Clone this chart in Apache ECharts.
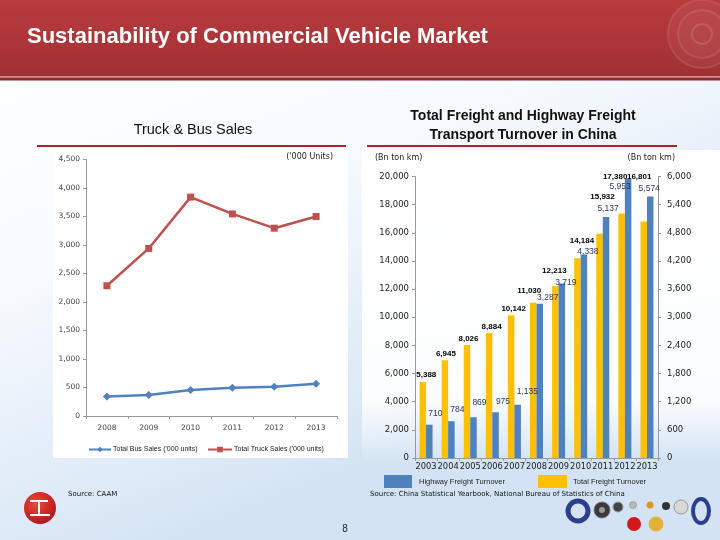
<!DOCTYPE html>
<html>
<head>
<meta charset="utf-8">
<script src="https://cdn.jsdelivr.net/npm/echarts@6/dist/echarts.min.js"></script>
<style>
html,body{margin:0;padding:0;background:#fff;}
#c{width:720px;height:540px;}
</style>
</head>
<body>
<div id="c"></div>
<script>
// ---------- data ----------
const salesYears = ['2008', '2009', '2010', '2011', '2012', '2013'];
const busSales = [340, 370, 455, 495, 515, 565];
const truckSales = [2285, 2940, 3840, 3545, 3295, 3500];
const salesTicks = [0, 500, 1000, 1500, 2000, 2500, 3000, 3500, 4000, 4500];

const freightYears = ['2003', '2004', '2005', '2006', '2007', '2008', '2009', '2010', '2011', '2012', '2013'];
const totalFreight = [5388, 6945, 8026, 8884, 10142, 11030, 12213, 14184, 15932, 17380, 16801];
const highwayFreight = [710, 784, 869, 975, 1135, 3287, 3719, 4338, 5137, 5953, 5574];
const totalTicks = [0, 2000, 4000, 6000, 8000, 10000, 12000, 14000, 16000, 18000, 20000];
const highwayTicks = [0, 600, 1200, 1800, 2400, 3000, 3600, 4200, 4800, 5400, 6000];

// ---------- label placement (style) ----------
const totalLabelOffset = [[3.5,-3.5],[1,-2],[1.5,-2.3],[2.5,-2.2],[2.5,-2.5],[-4,-8],[-1,-11],[4.5,-13.5],[3,-33],[-6.5,-32.5],[-4.5,-40.5]];
const hwyLabelOffset = [[6,-6.4],[6,-7.2],[6,-10],[7.4,-5.7],[9.7,-8.2],[8,-2],[4,3.3],[4,1.4],[2,-4],[-8,12.3],[-1,-3.5]];

const fmt = v => Number(v).toLocaleString('en-US');
const axisFont = 'DejaVu Sans';
const RED = '#C0504D', BLUE = '#4F81BD', YELLOW = '#FFC000';

function txt(text, x, y, font, fill, align, valign) {
  return {type: 'text', silent: true, style: {text, x, y, font, fill: fill || '#000',
    textAlign: align || 'left', textVerticalAlign: valign || 'middle',
    align: align || 'left', verticalAlign: valign || 'middle'}};
}

const graphics = [
  {type: 'rect', silent: true, z: -10, shape: {x: 0, y: 0, width: 720, height: 540},
    style: {fill: {type: 'linear', x: 0, y: 0, x2: 0.3, y2: 1, colorStops: [
      {offset: 0, color: '#ffffff'}, {offset: 0.45, color: '#f8fbfe'}, {offset: 1, color: '#d3e3f4'}]}}},
  {type: 'rect', silent: true, z: -9, shape: {x: 362, y: 150, width: 358, height: 312},
    style: {fill: {type: 'linear', x: 0, y: 0, x2: 0, y2: 1, colorStops: [
      {offset: 0, color: 'rgba(255,255,255,1)'}, {offset: 0.8, color: 'rgba(255,255,255,0.9)'}, {offset: 1, color: 'rgba(255,255,255,0)'}]}}},
  {type: 'rect', silent: true, z: -8, shape: {x: 53, y: 150, width: 295, height: 308}, style: {fill: '#ffffff'}},
  // banner
  {type: 'rect', silent: true, z: -5, shape: {x: 0, y: 0, width: 720, height: 76},
    style: {fill: {type: 'linear', x: 0, y: 0, x2: 0, y2: 1, colorStops: [
      {offset: 0, color: '#b93b3e'}, {offset: 1, color: '#a13033'}]}}},
  {type: 'rect', silent: true, z: -5, shape: {x: 0, y: 76, width: 720, height: 1.5}, style: {fill: '#d98a8b'}},
  {type: 'rect', silent: true, z: -5, shape: {x: 0, y: 77.5, width: 720, height: 3}, style: {fill: '#8e2a2c'}},
  {type: 'circle', silent: true, z: -4, shape: {cx: 702, cy: 34, r: 34}, style: {fill: 'rgba(255,255,255,0.05)', stroke: 'rgba(255,255,255,0.1)', lineWidth: 2}},
  {type: 'circle', silent: true, z: -4, shape: {cx: 702, cy: 34, r: 24}, style: {fill: 'rgba(255,255,255,0.03)', stroke: 'rgba(255,255,255,0.1)', lineWidth: 2}},
  {type: 'circle', silent: true, z: -4, shape: {cx: 702, cy: 34, r: 10}, style: {fill: 'none', stroke: 'rgba(255,255,255,0.12)', lineWidth: 2}},
  txt('Sustainability of Commercial Vehicle Market', 27, 37, 'bold 22px "Liberation Sans", Arial', '#ffffff'),
  // chart titles
  txt('Truck & Bus Sales', 193, 130, '14.5px "Liberation Sans", Arial', '#111', 'center'),
  {type: 'rect', silent: true, shape: {x: 37, y: 145, width: 309, height: 2}, style: {fill: '#a3282b'}},
  txt('Total Freight and Highway Freight', 523, 116, 'bold 14px "Liberation Sans", Arial', '#111', 'center'),
  txt('Transport Turnover in China', 523, 135, 'bold 14px "Liberation Sans", Arial', '#111', 'center'),
  {type: 'rect', silent: true, shape: {x: 367, y: 145, width: 310, height: 2}, style: {fill: '#a3282b'}},
  // units
  txt("('000 Units)", 333, 157, '8px "DejaVu Sans"', '#222', 'right'),
  txt('(Bn ton km)', 375, 158, '8px "DejaVu Sans"', '#222', 'left'),
  txt('(Bn ton km)', 675, 158, '8px "DejaVu Sans"', '#222', 'right'),
  // sources
  txt('Source: CAAM', 68, 494, '7px "DejaVu Sans"', '#111'),
  txt('Source: China Statistical Yearbook, National Bureau of Statistics of China', 370, 494, '7px "DejaVu Sans"', '#111'),
  txt('8', 345, 529, '10px "Liberation Sans", Arial', '#222', 'center'),
  // logo
  {type: 'circle', silent: true, shape: {cx: 40, cy: 508, r: 16}, style: {fill: {type: 'radial', x: 0.4, y: 0.35, r: 0.7, colorStops: [{offset: 0, color: '#e84a3c'}, {offset: 1, color: '#b3141a'}]}}},
  {type: 'rect', silent: true, shape: {x: 30, y: 500, width: 18, height: 2}, style: {fill: '#fff'}},
  {type: 'rect', silent: true, shape: {x: 38, y: 500, width: 2, height: 15}, style: {fill: '#fff'}},
  {type: 'rect', silent: true, shape: {x: 30, y: 514, width: 20, height: 2}, style: {fill: '#fff'}},
  // wheels
  {type: 'circle', silent: true, shape: {cx: 578, cy: 511, r: 10}, style: {fill: 'none', stroke: '#2b3f8c', lineWidth: 5}},
  {type: 'circle', silent: true, shape: {cx: 602, cy: 510, r: 8}, style: {fill: '#3a3a3a', stroke: '#777', lineWidth: 1}},
  {type: 'circle', silent: true, shape: {cx: 602, cy: 510, r: 3}, style: {fill: '#999'}},
  {type: 'circle', silent: true, shape: {cx: 618, cy: 507, r: 5}, style: {fill: '#444', stroke: '#999', lineWidth: 1}},
  {type: 'circle', silent: true, shape: {cx: 633, cy: 505, r: 3.5}, style: {fill: '#bbb', stroke: '#777', lineWidth: 0.5}},
  {type: 'circle', silent: true, shape: {cx: 650, cy: 505, r: 3.5}, style: {fill: '#d9962b'}},
  {type: 'circle', silent: true, shape: {cx: 666, cy: 506, r: 4}, style: {fill: '#333'}},
  {type: 'circle', silent: true, shape: {cx: 681, cy: 507, r: 7}, style: {fill: '#d8d8d8', stroke: '#999', lineWidth: 1}},
  {type: 'ellipse', silent: true, shape: {cx: 701, cy: 511, rx: 8, ry: 12}, style: {fill: 'none', stroke: '#2b3f8c', lineWidth: 4}},
  {type: 'circle', silent: true, shape: {cx: 634, cy: 524, r: 7}, style: {fill: '#d11a1a'}},
  {type: 'circle', silent: true, shape: {cx: 656, cy: 524, r: 7.5}, style: {fill: '#e0b23a'}}
];

const chart = echarts.init(document.getElementById('c'), null, {renderer: 'canvas'});

const leftAxisLabel = {fontFamily: axisFont, fontSize: 7.5, color: '#444'};
const rightAxisLabel = {fontFamily: axisFont, fontSize: 8.5, color: '#222'};

chart.setOption({
  animation: false,
  graphic: {elements: graphics},
  grid: [
    {left: 86, top: 159.5, width: 251, height: 256.5, containLabel: false},
    {left: 415, top: 176.5, width: 243, height: 281.5, containLabel: false}
  ],
  legend: [
    {left: 83, top: 441, itemWidth: 22, itemHeight: 7, itemGap: 5, data: ["Total Bus Sales ('000 units)"],
      textStyle: {fontFamily: 'Liberation Sans', fontSize: 7, color: '#222', padding: [0, 0, 0, -3]}},
    {left: 202, top: 441, itemWidth: 24, itemHeight: 7, data: ["Total Truck Sales ('000 units)"],
      textStyle: {fontFamily: 'Liberation Sans', fontSize: 7, color: '#222', padding: [0, 0, 0, -3]}},
    {left: 379, top: 470, itemWidth: 28, itemHeight: 13, icon: 'rect', data: ['Highway Freight Turnover'],
      textStyle: {fontFamily: 'Liberation Sans', fontSize: 7.5, color: '#222', padding: [4, 0, 0, 2]}},
    {left: 533, top: 470, itemWidth: 29, itemHeight: 13, icon: 'rect', data: ['Total Freight Turnover'],
      textStyle: {fontFamily: 'Liberation Sans', fontSize: 7.5, color: '#222', padding: [4, 0, 0, 1]}}
  ],
  xAxis: [
    {gridIndex: 0, type: 'category', data: salesYears, boundaryGap: true,
      axisLine: {lineStyle: {color: '#999'}}, axisTick: {show: true, length: 3, lineStyle: {color: '#999'}},
      axisLabel: Object.assign({margin: 8, interval: 0}, leftAxisLabel)},
    {gridIndex: 1, type: 'category', data: freightYears, boundaryGap: true,
      axisLine: {lineStyle: {color: '#999'}}, axisTick: {show: true, length: 3, lineStyle: {color: '#999'}},
      axisLabel: Object.assign({margin: 5, interval: 0}, rightAxisLabel, {fontSize: 8.3})}
  ],
  yAxis: [
    {gridIndex: 0, type: 'value', min: salesTicks[0], max: salesTicks[salesTicks.length - 1], interval: salesTicks[1] - salesTicks[0],
      splitLine: {show: false}, axisLine: {show: true, lineStyle: {color: '#999'}}, axisTick: {show: true, length: 3, lineStyle: {color: '#999'}},
      axisLabel: Object.assign({margin: 6, formatter: fmt}, leftAxisLabel)},
    {gridIndex: 1, type: 'value', position: 'left', min: totalTicks[0], max: totalTicks[totalTicks.length - 1], interval: totalTicks[1] - totalTicks[0],
      splitLine: {show: false}, axisLine: {show: true, lineStyle: {color: '#999'}}, axisTick: {show: true, length: 3, lineStyle: {color: '#999'}},
      axisLabel: Object.assign({margin: 6, formatter: fmt}, rightAxisLabel)},
    {gridIndex: 1, type: 'value', position: 'right', min: highwayTicks[0], max: highwayTicks[highwayTicks.length - 1], interval: highwayTicks[1] - highwayTicks[0],
      splitLine: {show: false}, axisLine: {show: true, lineStyle: {color: '#999'}}, axisTick: {show: true, length: 3, lineStyle: {color: '#999'}},
      axisLabel: Object.assign({margin: 9, formatter: fmt}, rightAxisLabel)}
  ],
  series: [
    {name: "Total Bus Sales ('000 units)", type: 'line', xAxisIndex: 0, yAxisIndex: 0, data: busSales,
      symbol: 'diamond', symbolSize: 8, color: BLUE, lineStyle: {width: 2.5, color: BLUE}, itemStyle: {color: BLUE}},
    {name: "Total Truck Sales ('000 units)", type: 'line', xAxisIndex: 0, yAxisIndex: 0, data: truckSales,
      symbol: 'rect', symbolSize: 7, color: RED, lineStyle: {width: 2.5, color: RED}, itemStyle: {color: RED}},
    {name: 'Total Freight Turnover', type: 'bar', xAxisIndex: 1, yAxisIndex: 1, color: YELLOW,
      barWidth: 6.5, barGap: '0%', itemStyle: {color: YELLOW},
      data: totalFreight.map((v, i) => ({value: v, label: {offset: totalLabelOffset[i]}})),
      label: {show: true, position: 'top', distance: 0, formatter: p => fmt(p.value),
        fontFamily: 'Liberation Sans', fontWeight: 'bold', fontSize: 8, color: '#000'}},
    {name: 'Highway Freight Turnover', type: 'bar', xAxisIndex: 1, yAxisIndex: 2, color: BLUE,
      barWidth: 6.5, barGap: '0%', itemStyle: {color: BLUE},
      data: highwayFreight.map((v, i) => ({value: v, label: {offset: hwyLabelOffset[i]}})),
      label: {show: true, position: 'top', distance: 0, formatter: p => fmt(p.value),
        fontFamily: 'Liberation Sans', fontSize: 8.5, color: '#26395a'}}
  ]
});
</script>
</body>
</html>
